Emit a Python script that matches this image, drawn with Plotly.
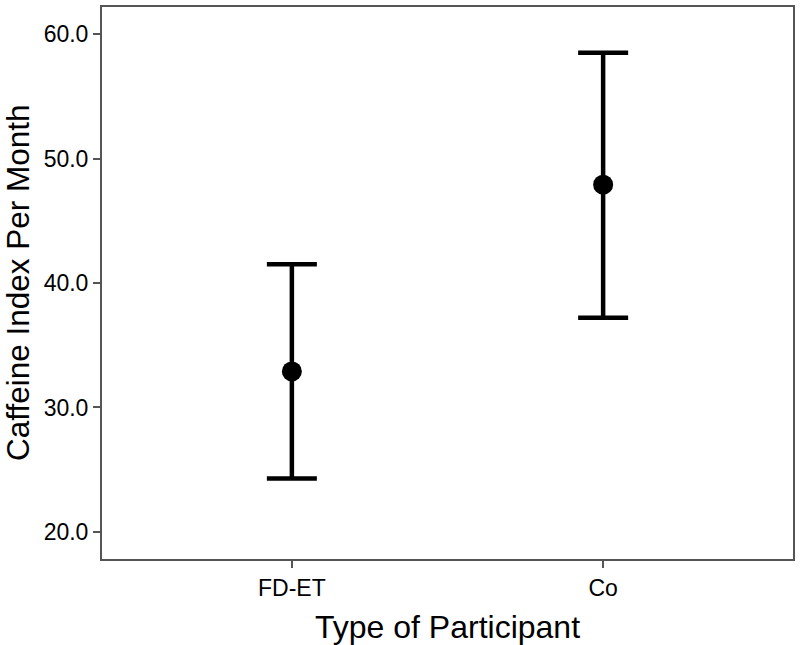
import plotly.graph_objects as go

groups = ["FD-ET", "Co"]
means = [32.9, 47.9]
upper = [41.5, 58.5]
lower = [24.3, 37.2]

err_plus = [u - m for u, m in zip(upper, means)]
err_minus = [m - l for m, l in zip(means, lower)]

fig = go.Figure()
fig.add_trace(go.Scatter(
    x=groups, y=means, mode="markers",
    marker=dict(color="black", size=20),
    error_y=dict(type="data", array=err_plus, arrayminus=err_minus,
                 color="black", thickness=4.5, width=25, symmetric=False),
    showlegend=False,
))

axis_common = dict(
    showline=True, linecolor="#555555", linewidth=2, mirror=True,
    ticks="outside", ticklen=7, tickwidth=1.5, tickcolor="#555555",
    showgrid=False, zeroline=False,
    tickfont=dict(family="Liberation Sans, Arial, sans-serif", size=23, color="black"),
)

fig.update_layout(
    width=800, height=645,
    margin=dict(l=102, r=5, t=7, b=86),
    paper_bgcolor="white", plot_bgcolor="white",
    font=dict(family="Liberation Sans, Arial, sans-serif", color="black"),
    xaxis=dict(
        type="category", categoryorder="array", categoryarray=groups,
        range=[-0.61, 1.61],
        title=dict(text="Type of Participant", font=dict(size=32), standoff=16),
        **axis_common,
    ),
    yaxis=dict(
        range=[17.83, 62.17],
        tickvals=[20, 30, 40, 50, 60],
        ticktext=["20.0", "30.0", "40.0", "50.0", "60.0"],
        **axis_common,
    ),
    annotations=[dict(
        text="Caffeine Index Per Month", textangle=-90,
        xref="paper", yref="paper", x=0, y=0.5,
        xanchor="center", yanchor="middle", xshift=-84,
        showarrow=False, font=dict(size=31.5, color="black"),
    )],
)

fig.write_html("out.html", config={"displayModeBar": False},
               post_script="document.body.style.margin='0';")
